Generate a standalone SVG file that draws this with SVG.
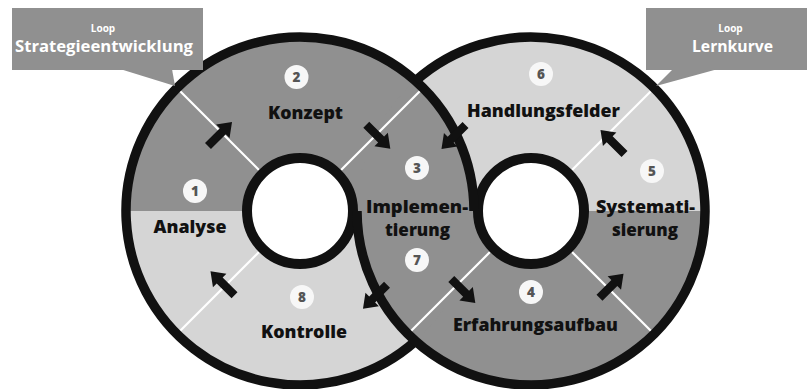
<svg xmlns="http://www.w3.org/2000/svg" width="807" height="389" viewBox="0 0 807 389">
<style>
.lbl{font-family:"Open Sans","Noto Sans","DejaVu Sans",sans-serif;font-weight:800;font-size:17.5px;fill:#111;text-anchor:middle}
.num{font-family:"Open Sans","Noto Sans","DejaVu Sans",sans-serif;font-weight:800;font-size:13.5px;fill:#555;text-anchor:middle}
.nc{fill:#f7f7f7}
.wl{stroke:#fff;stroke-width:2.2;fill:none}
.ring{fill:none;stroke:#111;stroke-width:9.5}
.hole{fill:#fff;stroke:#111;stroke-width:10}
.dark{fill:#909090}
.light{fill:#d5d5d5}
.box{fill:#909090}
.ct{font-family:"Open Sans","Noto Sans","DejaVu Sans",sans-serif;font-weight:700;fill:#fff;text-anchor:middle}
.arr{fill:#111}
</style>
<defs>
<path id="arr" d="M -17 -4.2 L 4 -4.2 L 4 -9.5 L 17 0 L 4 9.5 L 4 4.2 L -17 4.2 Z"/>
</defs>
<rect width="807" height="389" fill="#fff"/>
<g id="rings">
<circle class="light" cx="300" cy="211" r="174"/>
<circle class="light" cx="531" cy="211" r="174"/>
<path class="dark" d="M 126 211 A 174 174 0 0 1 474 211 Z"/>
<path class="dark" d="M 705 211 A 174 174 0 0 1 357 211 Z"/>
<path class="dark" d="M 415.5 80.86 A 174 174 0 0 1 415.5 341.14 A 174 174 0 0 1 415.5 80.86 Z"/>
<line class="wl" x1="258.99" y1="169.99" x2="176.96" y2="87.96"/>
<line class="wl" x1="258.99" y1="252.01" x2="176.96" y2="334.04"/>
<line class="wl" x1="341.01" y1="169.99" x2="423.04" y2="87.96"/>
<line class="wl" x1="489.99" y1="252.01" x2="407.96" y2="334.04"/>
<line class="wl" x1="572.01" y1="169.99" x2="654.04" y2="87.96"/>
<line class="wl" x1="572.01" y1="252.01" x2="654.04" y2="334.04"/>
<circle class="hole" cx="300" cy="211" r="53"/>
<circle class="hole" cx="531" cy="211" r="53"/>
<path class="ring" d="M 415.5 341.14 A 174 174 0 1 1 474 211"/>
<path class="ring" d="M 415.5 80.86 A 174 174 0 1 1 357 211"/>
</g>
<g id="callout-strategie">
<rect class="box" x="12" y="8" width="191" height="62"/>
<polygon class="box" points="120,69 172,69 175,86"/>
<text class="ct" x="103" y="32" font-size="10">Loop</text>
<text class="ct" x="104" y="52" font-size="16" textLength="178" lengthAdjust="spacingAndGlyphs">Strategieentwicklung</text>
</g>
<g id="callout-lernkurve">
<rect class="box" x="646" y="8" width="161" height="62"/>
<polygon class="box" points="673,69 718,69 656,86"/>
<text class="ct" x="730.5" y="32" font-size="10">Loop</text>
<text class="ct" x="732.5" y="52" font-size="16" textLength="81" lengthAdjust="spacingAndGlyphs">Lernkurve</text>
</g>
<g id="n1-analyse">
<circle class="nc" cx="195" cy="191" r="12"/>
<text class="num" x="195" y="195.8">1</text>
<text class="lbl" x="190" y="233" textLength="73" lengthAdjust="spacingAndGlyphs">Analyse</text>
</g>
<g id="n2-konzept">
<circle class="nc" cx="296.5" cy="77" r="12"/>
<text class="num" x="296.5" y="81.8">2</text>
<text class="lbl" x="305.5" y="118.5" textLength="75" lengthAdjust="spacingAndGlyphs">Konzept</text>
</g>
<g id="n3-n7-implementierung">
<circle class="nc" cx="417" cy="168" r="12"/>
<text class="num" x="417" y="172.8">3</text>
<text class="lbl" x="417" y="212.5" textLength="102" lengthAdjust="spacingAndGlyphs">Implemen-</text>
<text class="lbl" x="417.5" y="236" textLength="65" lengthAdjust="spacingAndGlyphs">tierung</text>
<circle class="nc" cx="417" cy="260" r="12"/>
<text class="num" x="417" y="264.8">7</text>
</g>
<g id="n4-erfahrungsaufbau">
<circle class="nc" cx="531" cy="292" r="12"/>
<text class="num" x="531" y="296.8">4</text>
<text class="lbl" x="535.5" y="330.5" textLength="165" lengthAdjust="spacingAndGlyphs">Erfahrungsaufbau</text>
</g>
<g id="n5-systematisierung">
<circle class="nc" cx="652" cy="171" r="12"/>
<text class="num" x="652" y="175.8">5</text>
<text class="lbl" x="645.5" y="212.5" textLength="99" lengthAdjust="spacingAndGlyphs">Systemati-</text>
<text class="lbl" x="645" y="236" textLength="66" lengthAdjust="spacingAndGlyphs">sierung</text>
</g>
<g id="n6-handlungsfelder">
<circle class="nc" cx="541" cy="74" r="12"/>
<text class="num" x="541" y="78.8">6</text>
<text class="lbl" x="543.5" y="117" textLength="153" lengthAdjust="spacingAndGlyphs">Handlungsfelder</text>
</g>
<g id="n8-kontrolle">
<circle class="nc" cx="302" cy="297" r="12"/>
<text class="num" x="302" y="301.8">8</text>
<text class="lbl" x="304" y="337.5" textLength="86" lengthAdjust="spacingAndGlyphs">Kontrolle</text>
</g>
<g id="connectors" class="arr">
<use href="#arr" transform="translate(220,134) rotate(-45)"/>
<use href="#arr" transform="translate(378.3,136.7) rotate(45)"/>
<use href="#arr" transform="translate(453.5,137) rotate(135)"/>
<use href="#arr" transform="translate(375,296.7) rotate(135)"/>
<use href="#arr" transform="translate(463.3,291) rotate(45)"/>
<use href="#arr" transform="translate(611.5,285.8) rotate(-45)"/>
<use href="#arr" transform="translate(612.5,142) rotate(-135)"/>
<use href="#arr" transform="translate(222.5,283.3) rotate(-135)"/>
</g>
</svg>
